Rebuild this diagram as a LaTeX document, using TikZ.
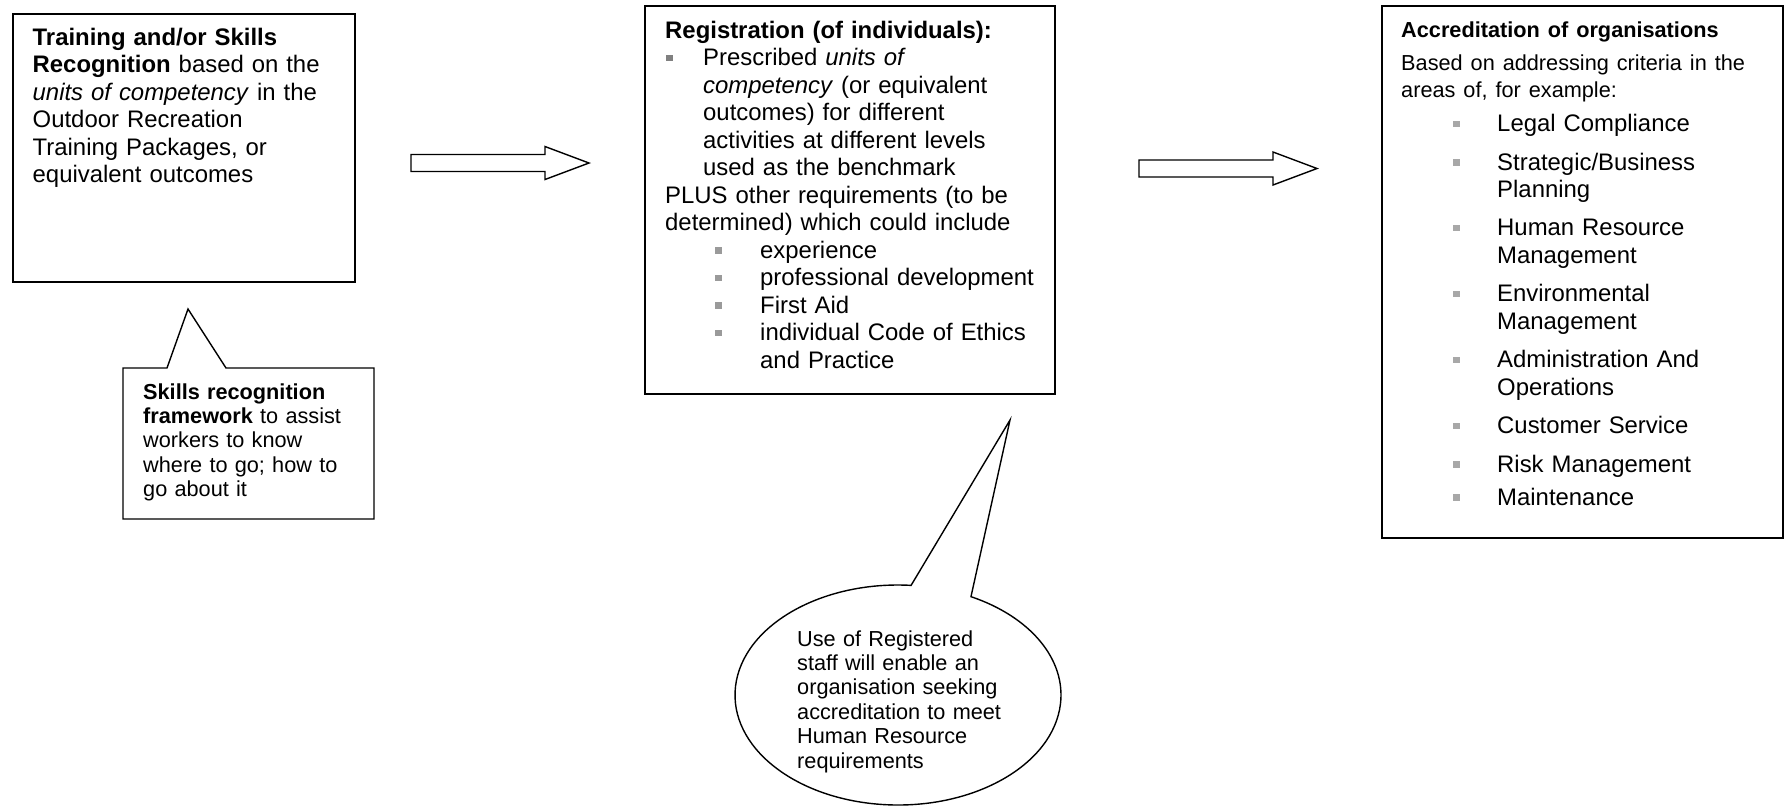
\documentclass[tikz,border=0pt]{standalone}
\usepackage{fontspec}
\setmainfont{Liberation Sans}
\definecolor{bulA}{HTML}{808080}
\definecolor{bulB}{HTML}{9A9A9A}
\definecolor{bulC}{HTML}{A8A8A8}
\newcommand{\sqbul}[2]{\makebox[0pt][l]{\hspace*{#1}\textcolor{#2}{\rule[4.2pt]{6.5pt}{6.5pt}}}}
\newcommand{\smallf}[1]{{\fontsize{21.7pt}{27.5pt}\selectfont #1}}
\begin{document}
\begin{tikzpicture}[x=1pt,y=-1pt,
  boxst/.style={draw, line width=1.8pt, rectangle, inner sep=0pt, anchor=north west},
  bigtext/.style={anchor=base west, inner sep=0pt, align=left, font=\fontsize{23.9pt}{27.5pt}\selectfont},
  smalltext/.style={anchor=base west, inner sep=0pt, align=left, font=\fontsize{21.7pt}{24.4pt}\selectfont},
  callst/.style={draw, line width=1.4pt, line join=miter},
  blockarr/.pic={\draw[line width=1.4pt, line join=miter] (0,-8.5) -- (134,-8.5) -- (134,-16.5) -- (178,0) -- (134,16.5) -- (134,8.5) -- (0,8.5) -- cycle;}
]
\useasboundingbox (0,0) rectangle (1784,807);

% main boxes
\node[boxst, minimum width=342pt, minimum height=268pt] (b1) at (12,13) {};
\node[boxst, minimum width=410pt, minimum height=388pt] (b2) at (644,5) {};
\node[boxst, minimum width=401pt, minimum height=532pt] (b3) at (1381,5) {};

% box 1 text
\node[bigtext, text width=318pt] (t1) at (32.5,45) {\textbf{Training and/or Skills}\\
\textbf{Recognition} based on the\\
\textit{units of competency} in the\\
Outdoor Recreation\\
Training Packages, or\\
equivalent outcomes};

% box 2 text
\node[bigtext, text width=386pt] (t2) at (665,38) {\textbf{Registration (of individuals):}\\
\sqbul{1pt}{bulA}\hspace*{38pt}Prescribed \textit{units of}\\
\hspace*{38pt}\textit{competency} (or equivalent\\
\hspace*{38pt}outcomes) for different\\
\hspace*{38pt}activities at different levels\\
\hspace*{38pt}used as the benchmark\\
PLUS other requirements (to be\\
determined) which could include\\
\sqbul{50pt}{bulB}\hspace*{95pt}experience\\
\sqbul{50pt}{bulB}\hspace*{95pt}professional development\\
\sqbul{50pt}{bulB}\hspace*{95pt}First Aid\\
\sqbul{50pt}{bulB}\hspace*{95pt}individual Code of Ethics\\
\hspace*{95pt}and Practice};

% box 3 text
\node[bigtext, text width=378pt] (t3) at (1401,37) {\smallf{\textbf{Accreditation of organisations}}\\[5.5pt]
\smallf{Based on addressing criteria in the}\\
\smallf{areas of, for example:}\\[6.5pt]
\sqbul{52pt}{bulC}\hspace*{96pt}Legal Compliance\\[11pt]
\sqbul{52pt}{bulC}\hspace*{96pt}Strategic/Business\\
\hspace*{96pt}Planning\\[10.5pt]
\sqbul{52pt}{bulC}\hspace*{96pt}Human Resource\\
\hspace*{96pt}Management\\[11pt]
\sqbul{52pt}{bulC}\hspace*{96pt}Environmental\\
\hspace*{96pt}Management\\[11pt]
\sqbul{52pt}{bulC}\hspace*{96pt}Administration And\\
\hspace*{96pt}Operations\\[11pt]
\sqbul{52pt}{bulC}\hspace*{96pt}Customer Service\\[11pt]
\sqbul{52pt}{bulC}\hspace*{96pt}Risk Management\\[5.5pt]
\sqbul{52pt}{bulC}\hspace*{96pt}Maintenance};

% block arrows
\pic at (411,163) {blockarr};
\pic at (1139,168.5) {blockarr};

% rectangular callout
\coordinate (c1tip) at (188,309);
\draw[callst] (123,368) -- (167,368) -- (c1tip) -- (226,368) -- (374,368) -- (374,519) -- (123,519) -- cycle;
\node[smalltext, text width=228pt] (t4) at (143,399) {\textbf{Skills recognition}\\
\textbf{framework} to assist\\
workers to know\\
where to go; how to\\
go about it};

% elliptical callout
\coordinate (ec) at (898,695);
\coordinate (etip) at (1010,420);
\draw[callst] (ec) ++(85.4:163pt and 110pt) arc[start angle=85.4, end angle=423.4, x radius=163pt, y radius=110pt] -- (etip) -- cycle;
\node[smalltext, text width=240pt] (t5) at (797,646) {Use of Registered\\
staff will enable an\\
organisation seeking\\
accreditation to meet\\
Human Resource\\
requirements};
\end{tikzpicture}
\end{document}
